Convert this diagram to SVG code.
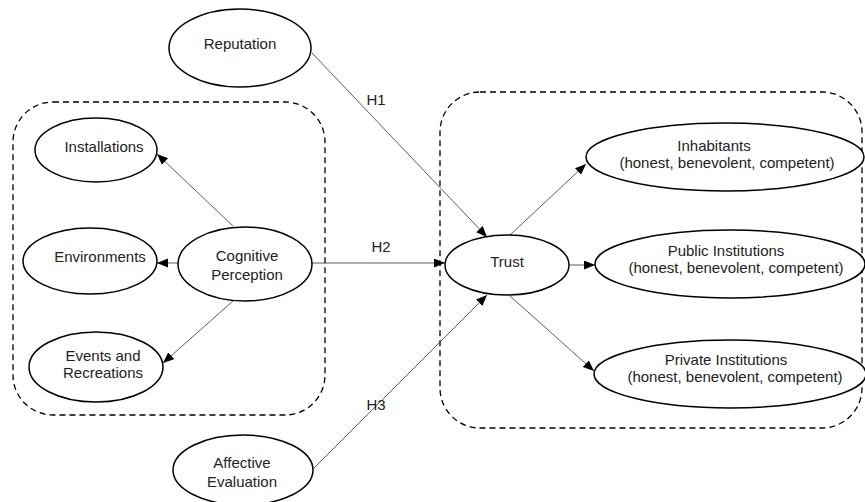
<svg xmlns="http://www.w3.org/2000/svg" width="865" height="502" viewBox="0 0 865 502">
<style>
.n{fill:#fff;stroke:#000;stroke-width:1.5}
.t{font-family:"Liberation Sans",Arial,sans-serif;font-size:15px;fill:#222;text-anchor:middle}
.c{stroke:#333;stroke-width:0.8;fill:none;marker-end:url(#ah)}
.box{fill:none;stroke:#000;stroke-width:1.3;stroke-dasharray:6,4}
</style>
<defs>
<marker id="ah" markerUnits="userSpaceOnUse" markerWidth="12" markerHeight="10" refX="11" refY="4.5" orient="auto">
<path d="M0,0 L11,4.5 L0,9 Z" fill="#000"/>
</marker>
</defs>
<rect class="box" x="13" y="102" width="312" height="313" rx="40" ry="40"/>
<rect class="box" x="440" y="92" width="422" height="336" rx="40" ry="40"/>
<g id="connectors">
<line class="c" x1="312" y1="53" x2="487" y2="237"/>
<line class="c" x1="312" y1="263" x2="445" y2="263"/>
<line class="c" x1="312" y1="470" x2="487" y2="295"/>
<line class="c" x1="233" y1="226" x2="157" y2="154"/>
<line class="c" x1="178" y1="263" x2="157" y2="263"/>
<line class="c" x1="233" y1="301" x2="163" y2="363"/>
<line class="c" x1="510" y1="235" x2="586" y2="164"/>
<line class="c" x1="570" y1="265" x2="595" y2="265"/>
<line class="c" x1="510" y1="296" x2="594" y2="371"/>
<text class="t" x="376" y="105">H1</text>
<text class="t" x="381" y="252">H2</text>
<text class="t" x="376" y="410">H3</text>
</g>
<g id="reputation"><ellipse class="n" cx="240" cy="48" rx="71" ry="39"/><text class="t" x="240" y="49">Reputation</text></g>
<g id="installations"><ellipse class="n" cx="96" cy="150" rx="61" ry="32"/><text class="t" x="104" y="152">Installations</text></g>
<g id="environments"><ellipse class="n" cx="90" cy="261" rx="67" ry="33"/><text class="t" x="100" y="262">Environments</text></g>
<g id="cognitive"><ellipse class="n" cx="245" cy="264" rx="67" ry="37"/><text class="t" x="247" y="261">Cognitive</text><text class="t" x="247" y="280">Perception</text></g>
<g id="events"><ellipse class="n" cx="96" cy="367" rx="67" ry="35"/><text class="t" x="103" y="361">Events and</text><text class="t" x="103" y="378">Recreations</text></g>
<g id="affective"><ellipse class="n" cx="243" cy="470" rx="70" ry="35"/><text class="t" x="242" y="468">Affective</text><text class="t" x="242" y="487">Evaluation</text></g>
<g id="trust"><ellipse class="n" cx="507" cy="265" rx="62" ry="30"/><text class="t" x="507" y="267">Trust</text></g>
<g id="inhabitants"><ellipse class="n" cx="725" cy="157" rx="139" ry="34"/><text class="t" x="714" y="151">Inhabitants</text><text class="t" x="727" y="168">(honest, benevolent, competent)</text></g>
<g id="public"><ellipse class="n" cx="730" cy="264" rx="135" ry="34"/><text class="t" x="726" y="256">Public Institutions</text><text class="t" x="736" y="273">(honest, benevolent, competent)</text></g>
<g id="private"><ellipse class="n" cx="730" cy="374" rx="136" ry="34"/><text class="t" x="726" y="365">Private Institutions</text><text class="t" x="735" y="382">(honest, benevolent, competent)</text></g>
</svg>
